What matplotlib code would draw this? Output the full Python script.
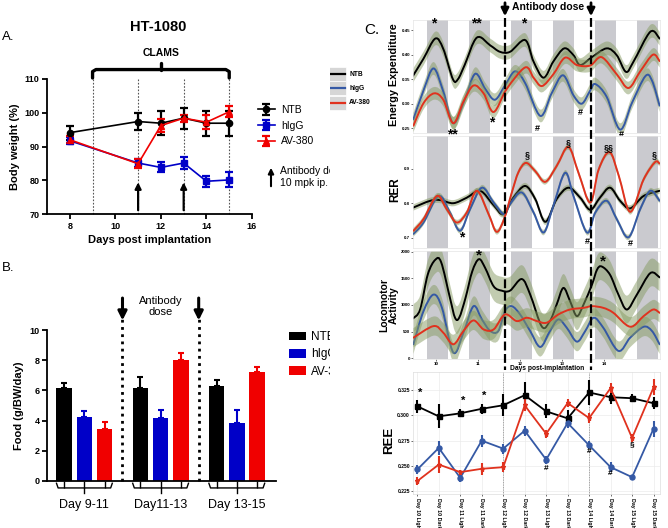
import numpy as np
import matplotlib
matplotlib.use('Agg')
import matplotlib.pyplot as plt
import matplotlib.transforms as mtransforms
from matplotlib.path import Path
from matplotlib.patches import PathPatch, Rectangle
from matplotlib.lines import Line2D

plt.rcParams['font.family'] = ['Liberation Sans', 'DejaVu Sans']

W, H = 668, 528

# ---------------- Panel A: body weight ----------------
days_a = [8, 11, 12, 13, 14, 15]
ntb_bw = [94.1, 97.4, 96.9, 98.4, 96.9, 96.9]
ntb_bw_err = [2.1, 2.4, 3.6, 3.1, 3.7, 3.7]
higg_bw = [91.7, 85.1, 83.8, 85.1, 79.7, 80.1]
higg_bw_err = [1.0, 1.3, 1.5, 1.7, 1.7, 2.2]
av_bw = [92.0, 84.9, 96.2, 98.4, 97.2, 100.3]
av_bw_err = [1.0, 1.3, 2.0, 1.0, 2.0, 1.7]
clams_days = [9, 11, 13, 15]
dose_days = [11, 13]

# ---------------- Panel B: food intake ----------------
periods = ['Day 9-11', 'Day11-13', 'Day 13-15']
ntb_food = [6.13, 6.19, 6.28]
ntb_food_err = [0.37, 0.70, 0.40]
higg_food = [4.25, 4.18, 3.85]
higg_food_err = [0.40, 0.50, 0.84]
av_food = [3.47, 8.00, 7.23]
av_food_err = [0.45, 0.50, 0.34]

# ---------------- Panel C: CLAMS traces ----------------
dark_days = [10, 11, 12, 13, 14, 15]

ee_ntb_t = [9.45, 9.70, 9.98, 10.17, 10.40, 10.52, 10.68, 10.97, 11.29, 11.52, 11.76, 12.12, 12.32,
            12.56, 12.79, 13.05, 13.27, 13.43, 13.71, 14.06, 14.30, 14.52, 14.70, 15.10, 15.32]
ee_ntb = [0.357, 0.392, 0.433, 0.412, 0.350, 0.350, 0.379, 0.435, 0.419, 0.406, 0.406, 0.430, 0.386,
          0.353, 0.386, 0.413, 0.399, 0.379, 0.395, 0.413, 0.399, 0.365, 0.386, 0.447, 0.433]
ee_higg_t = [9.46, 9.70, 9.94, 10.17, 10.41, 10.68, 10.93, 11.17, 11.40, 11.64, 11.88, 12.12, 12.48,
             12.75, 13.02, 13.27, 13.47, 13.67, 13.79, 14.06, 14.38, 14.66, 14.98, 15.14, 15.32]
ee_higg = [0.268, 0.327, 0.372, 0.325, 0.260, 0.308, 0.361, 0.330, 0.308, 0.337, 0.366, 0.342, 0.275,
           0.321, 0.358, 0.317, 0.300, 0.327, 0.340, 0.314, 0.247, 0.301, 0.356, 0.347, 0.296]
ee_av_t = [9.46, 9.70, 9.95, 10.17, 10.41, 10.65, 10.89, 11.13, 11.37, 11.68, 12.12, 12.32, 12.52,
           12.79, 13.07, 13.35, 13.67, 13.94, 14.30, 14.58, 14.86, 15.16, 15.32]
ee_av = [0.255, 0.301, 0.321, 0.308, 0.260, 0.304, 0.337, 0.321, 0.283, 0.330, 0.374, 0.353, 0.336,
         0.360, 0.394, 0.379, 0.378, 0.395, 0.360, 0.332, 0.366, 0.400, 0.387]

rer_ntb_t = [9.45, 9.86, 10.10, 10.41, 10.73, 11.05, 11.37, 11.60, 11.84, 12.12, 12.36, 12.60, 12.87,
             13.15, 13.43, 13.67, 13.90, 14.14, 14.38, 14.62, 14.94, 15.32]
rer_ntb = [0.787, 0.807, 0.809, 0.800, 0.816, 0.836, 0.794, 0.768, 0.816, 0.850, 0.812, 0.746, 0.812,
           0.845, 0.816, 0.781, 0.816, 0.845, 0.807, 0.785, 0.821, 0.836]
rer_higg_t = [9.46, 9.70, 10.06, 10.33, 10.57, 10.81, 11.09, 11.37, 11.62, 11.76, 12.04, 12.32, 12.56,
              12.79, 13.07, 13.27, 13.59, 13.79, 14.06, 14.30, 14.58, 14.86, 15.10, 15.32]
rer_higg = [0.711, 0.744, 0.821, 0.773, 0.720, 0.783, 0.845, 0.802, 0.768, 0.797, 0.831, 0.773, 0.715,
            0.792, 0.888, 0.821, 0.715, 0.773, 0.807, 0.754, 0.701, 0.783, 0.836, 0.807]
rer_av_t = [9.46, 9.70, 10.02, 10.25, 10.49, 10.73, 10.97, 11.25, 11.44, 11.62, 11.80, 11.96, 12.14,
            12.36, 12.60, 12.87, 13.15, 13.39, 13.67, 13.87, 14.13, 14.35, 14.62, 14.94, 15.21, 15.32]
rer_av = [0.720, 0.754, 0.821, 0.783, 0.744, 0.773, 0.836, 0.768, 0.717, 0.755, 0.830, 0.890, 0.917,
          0.893, 0.862, 0.908, 0.963, 0.888, 0.802, 0.898, 0.948, 0.879, 0.775, 0.869, 0.919, 0.915]

loco_ntb_t = [9.45, 9.62, 9.80, 9.98, 10.12, 10.33, 10.45, 10.55, 10.70, 10.86, 11.02, 11.17, 11.37,
              11.56, 11.76, 12.04, 12.24, 12.52, 12.71, 12.87, 13.03, 13.19, 13.35, 13.51, 13.71,
              13.83, 13.94, 14.14, 14.34, 14.54, 14.78, 15.10, 15.32]
loco_ntb = [745, 913, 1565, 1845, 1800, 1130, 760, 760, 1130, 1627, 1857, 1689, 1348,
            1267, 1267, 1484, 1193, 590, 696, 1006, 1317, 1068, 789, 1006, 1379,
            1658, 1720, 1565, 1193, 913, 1193, 1596, 1516]
loco_higg_t = [9.46, 9.70, 9.94, 10.14, 10.41, 10.65, 10.89, 11.09, 11.29, 11.48, 11.64, 11.80, 12.00,
               12.24, 12.48, 12.71, 12.91, 13.11, 13.35, 13.55, 13.75, 13.98, 14.34, 14.62, 14.94,
               15.14, 15.32]
loco_higg = [261, 882, 1193, 944, 106, 478, 975, 727, 509, 509, 882, 975, 820,
             509, 211, 509, 727, 571, 311, 509, 758, 571, 137, 385, 590,
             509, 261]
loco_av_t = [9.46, 9.94, 10.17, 10.41, 10.65, 10.89, 11.13, 11.37, 11.64, 11.92, 12.16, 12.40, 12.63,
             12.91, 13.19, 13.51, 13.71, 13.98, 14.22, 14.62, 14.94, 15.17, 15.32]
loco_av = [385, 602, 478, 261, 509, 708, 540, 540, 820, 696, 758, 696, 665,
           820, 913, 944, 975, 944, 851, 590, 789, 913, 851]

ee_ci = [0.014, 0.013, 0.013]
rer_ci = [0.009, 0.008, 0.008]
loco_ci = [260, 180, 180]

ree_labels = ['Day 10 Light', 'Day 10 Dark', 'Day 11 Light', 'Day 11 Dark', 'Day 12 Light',
              'Day 12 Dark', 'Day 13 Light', 'Day 13 Dark', 'Day 14 Light', 'Day 14 Dark',
              'Day 15 Light', 'Day 15 Dark']
ree_ntb = [0.309, 0.299, 0.302, 0.3065, 0.310, 0.320, 0.304, 0.297, 0.3227, 0.318, 0.317, 0.312]
ree_ntb_err = [0.0065, 0.012, 0.004, 0.005, 0.011, 0.013, 0.007, 0.008, 0.0125, 0.007, 0.004, 0.006]
ree_higg = [0.2463, 0.2677, 0.238, 0.2749, 0.267, 0.2848, 0.2561, 0.2924, 0.2703, 0.2486, 0.2387, 0.2868]
ree_higg_err = [0.004, 0.007, 0.004, 0.006, 0.005, 0.005, 0.004, 0.005, 0.004, 0.005, 0.002, 0.008]
ree_av = [0.2348, 0.2512, 0.2437, 0.247, 0.2486, 0.3099, 0.2818, 0.3122, 0.2973, 0.327, 0.2776, 0.3277]
ree_av_err = [0.004, 0.008, 0.002, 0.006, 0.005, 0.006, 0.004, 0.004, 0.005, 0.005, 0.004, 0.008]

groups = ['NTB', 'hIgG', 'AV-380']
colors_ab = ['black', '#0000C8', '#F00000']
colors_c = ['black', '#3559A5', '#E0321E']
RIBBON = '#869B62'
BAND = '#CACACF'


def fx(px):
    return px / W


def fy(py):
    return 1 - py / H


def box(x0, y0, x1, y1):
    return [fx(x0), fy(y1), (x1 - x0) / W, (y1 - y0) / H]


def bezier(t, v):
    # smooth path through the read points (Catmull-Rom as cubic Bezier)
    p = np.column_stack([t, v]).astype(float)
    e = np.vstack([p[0], p, p[-1]])
    verts, codes = [p[0]], [Path.MOVETO]
    for i in range(len(p) - 1):
        a, b, c, d = e[i], e[i + 1], e[i + 2], e[i + 3]
        verts += [b + (c - a) / 6, c - (d - b) / 6, c]
        codes += [Path.CURVE4] * 3
    return np.array(verts), codes


def smooth_series(ax, t, v, ci, color, z):
    t = np.asarray(t, float)
    v = np.asarray(v, float)
    up, codes = bezier(t, v + ci)
    lo, _ = bezier(t, v - ci)
    verts = np.vstack([up, lo[::-1], up[:1]])
    cds = codes + [Path.LINETO] + [Path.CURVE4] * (len(lo) - 1) + [Path.CLOSEPOLY]
    ax.add_patch(PathPatch(Path(verts, cds), facecolor=RIBBON, edgecolor='none',
                           alpha=0.5, zorder=z))
    mid, codes = bezier(t, v)
    ax.add_patch(PathPatch(Path(mid, codes), fill=False, edgecolor=color, lw=1.4,
                           zorder=z + 0.5, capstyle='round'))


fig = plt.figure(figsize=(W / 100, H / 100), dpi=100)

# ================= Panel A =================
axA = fig.add_axes(box(47, 79, 252, 214), zorder=0)
markers_a = ['o', 's', '^']
for vals, errs, col, mk, lab in zip([ntb_bw, higg_bw, av_bw], [ntb_bw_err, higg_bw_err, av_bw_err],
                                    colors_ab, markers_a, groups):
    axA.errorbar(days_a, vals, yerr=errs, color=col, marker=mk, ms=4.5, lw=1.2,
                 elinewidth=1.6, capsize=3, capthick=1.6, label=lab, zorder=3)
axA.vlines(clams_days, 70, 110, colors='#555555', linestyles=(0, (1.5, 1.5)), lw=0.8,
           zorder=1, clip_on=False)
for d in dose_days:
    axA.annotate('', xy=(d, 80.2), xytext=(d, 70.3),
                 arrowprops=dict(arrowstyle='-|>', color='black', lw=1.6, mutation_scale=9))
# CLAMS brace
bk = dict(color='black', lw=2.4, clip_on=False, solid_capstyle='round', solid_joinstyle='round')
axA.plot([9, 9, 9.15, 14.85, 15, 15], [110.3, 112.2, 112.8, 112.8, 112.2, 110.3], **bk)
axA.plot([12, 12], [112.8, 114.6], **bk)
axA.text(12, 117.7, 'CLAMS', ha='center', va='center', fontsize=7.5, fontweight='bold')
axA.set_xlim(7, 16)
axA.set_ylim(70, 110)
axA.set_xticks([8, 10, 12, 14, 16])
axA.set_yticks([70, 80, 90, 100, 110])
axA.set_xlabel('Days post implantation', fontsize=8, fontweight='bold', labelpad=3)
axA.set_ylabel('Body weight (%)', fontsize=8, fontweight='bold', labelpad=3)
axA.spines[['top', 'right']].set_visible(False)
axA.spines[['left', 'bottom']].set_linewidth(1.3)
axA.tick_params(width=1.3, length=3.5, labelsize=6.5, pad=2)
for lb in axA.get_xticklabels() + axA.get_yticklabels():
    lb.set_fontweight('bold')
axA.legend(loc='upper left', bbox_to_anchor=(fx(258), fy(105)), bbox_transform=fig.transFigure,
           frameon=False, fontsize=7.5, handlelength=1.6, labelspacing=0.55, handletextpad=0.6,
           borderpad=0, borderaxespad=0)
axA.annotate('', xy=(fx(271), fy(165)), xytext=(fx(271), fy(189)), xycoords='figure fraction',
             arrowprops=dict(arrowstyle='-|>', color='black', lw=1.5, mutation_scale=8))
axA.text(fx(280), fy(177), 'Antibody dose\n10 mpk ip.', transform=fig.transFigure,
         fontsize=7.5, ha='left', va='center', linespacing=1.15)

fig.text(fx(158), fy(27), 'HT-1080', ha='center', va='center', fontsize=10.5, fontweight='bold')
fig.text(fx(2), fy(37), 'A.', ha='left', va='center', fontsize=9.5)
fig.text(fx(2), fy(268), 'B.', ha='left', va='center', fontsize=9.5)

# ================= Panel B =================
axB = fig.add_axes(box(47, 330, 276, 481), zorder=0)
gstep = 3.77
gx = np.arange(len(periods)) * gstep
for j, (vals, errs, col, lab) in enumerate(zip([ntb_food, higg_food, av_food],
                                               [ntb_food_err, higg_food_err, av_food_err],
                                               colors_ab, groups)):
    xs = gx + (j - 1)
    axB.bar(xs, vals, width=0.77, color=col, label=lab, zorder=2)
    axB.errorbar(xs, vals, yerr=[np.zeros(len(vals)), errs], fmt='none', ecolor=col,
                 elinewidth=1.5, capsize=2.5, capthick=1.5, zorder=2)
axB.set_xlim(-1.85, 9.48)
axB.set_ylim(0, 10)
axB.set_yticks([0, 2, 4, 6, 8, 10])
axB.set_xticks(np.concatenate([gx - 1, gx, gx + 1]))
axB.set_xticklabels([])
axB.set_ylabel('Food (g/BW/day)', fontsize=8, fontweight='bold', labelpad=4)
axB.spines[['top', 'right']].set_visible(False)
axB.spines[['left', 'bottom']].set_linewidth(1.3)
axB.tick_params(axis='y', width=1.3, length=3.5, labelsize=6.5, pad=2)
axB.tick_params(axis='x', width=1.0, length=5.3, pad=2)
for lb in axB.get_yticklabels():
    lb.set_fontweight('bold')
trB = mtransforms.blended_transform_factory(axB.transData, axB.transAxes)
for g, lab in zip(gx, periods):
    axB.plot([g - 1.38, g - 1.3, g + 1.3, g + 1.38], [-0.015, -0.046, -0.046, -0.015],
             transform=trB, color='black', lw=1.0, clip_on=False)
    axB.plot([g, g], [-0.046, -0.078], transform=trB, color='black', lw=1.0, clip_on=False)
    axB.text(g, -0.16, lab, transform=trB, ha='center', va='center', fontsize=9)
sep = [(gx[0] + 1 + gx[1] - 1) / 2, (gx[1] + 1 + gx[2] - 1) / 2]
for s in sep:
    axB.plot([s, s], [0, 10.8], color='black', lw=2.0, linestyle=(0, (1, 1.6)), clip_on=False)
    axB.annotate('', xy=(s, 10.45), xytext=(s, 12.3),
                 arrowprops=dict(arrowstyle='-|>', color='black', lw=2.2, mutation_scale=13),
                 annotation_clip=False)
axB.text(gx[1], 11.55, 'Antibody\ndose', ha='center', va='center', fontsize=8, linespacing=1.15)
axB.legend(loc='upper left', bbox_to_anchor=(fx(289), fy(331)), bbox_transform=fig.transFigure,
           frameon=False, fontsize=8.5, handlelength=1.4, handleheight=0.75, labelspacing=0.45,
           handletextpad=0.5, borderpad=0, borderaxespad=0)

# ================= Panel C background (covers A/B overflow) =================
bg = fig.add_axes([fx(330), 0, 1 - fx(330), 1], zorder=1)
bg.set_axis_off()
bg.add_patch(Rectangle((0, 0), 1, 1, transform=bg.transAxes, facecolor='white',
                       edgecolor='none', zorder=0))
bg.text(fx(372), fy(30), 'C.', transform=fig.transFigure, fontsize=11, ha='center', va='center')
key_y = [74, 88, 103]
for ky, col, lab in zip(key_y, colors_c, groups):
    bg.add_patch(Rectangle((fx(329), fy(ky + 7)), 17 / W, 14 / H, transform=fig.transFigure,
                           facecolor='#D6D6D6', edgecolor='white', lw=0.5))
    bg.add_line(Line2D([fx(330), fx(345)], [fy(ky), fy(ky)], transform=fig.transFigure,
                       color=col, lw=1.6))
    bg.text(fx(349), fy(ky), lab, transform=fig.transFigure, fontsize=4.8, ha='left',
            va='center', fontweight='bold')
bg.text(fx(394), fy(75), 'Energy Expenditure', transform=fig.transFigure, rotation=90,
        ha='center', va='center', fontsize=7.8, fontweight='bold')
bg.text(fx(395), fy(190), 'RER', transform=fig.transFigure, rotation=90,
        ha='center', va='center', fontsize=8.5, fontweight='bold')
bg.text(fx(389), fy(305), 'Locomotor\nActivity', transform=fig.transFigure, rotation=90,
        ha='center', va='center', fontsize=7.5, fontweight='bold', linespacing=1.0)
bg.text(fx(389), fy(440), 'REE', transform=fig.transFigure, rotation=90,
        ha='center', va='center', fontsize=9.5, fontweight='bold')
bg.text(fx(547), fy(369), 'Days post-implantation', transform=fig.transFigure,
        ha='center', va='center', fontsize=4.8, fontweight='bold')
bg.text(fx(548), fy(7), 'Antibody dose', transform=fig.transFigure,
        ha='center', va='center', fontsize=7.5, fontweight='bold')
for X in [505, 591]:
    bg.annotate('', xy=(fx(X), fy(19)), xytext=(fx(X), fy(0)), xycoords='figure fraction',
                arrowprops=dict(arrowstyle='-|>', color='black', lw=2.0, mutation_scale=11))

# ================= Panel C traces =================
axEE = fig.add_axes(box(413, 20, 660, 133), zorder=2)
axRER = fig.add_axes(box(413, 136, 660, 248), zorder=2)
axLO = fig.add_axes(box(413, 251, 660, 359), zorder=2)

traces = [
    (axEE, [(ee_ntb_t, ee_ntb), (ee_higg_t, ee_higg), (ee_av_t, ee_av)], ee_ci,
     (0.24, 0.471), [0.25, 0.30, 0.35, 0.40, 0.45], '{:.2f}'),
    (axRER, [(rer_ntb_t, rer_ntb), (rer_higg_t, rer_higg), (rer_av_t, rer_av)], rer_ci,
     (0.67, 0.995), [0.7, 0.8, 0.9], '{:.1f}'),
    (axLO, [(loco_ntb_t, loco_ntb), (loco_higg_t, loco_higg), (loco_av_t, loco_av)], loco_ci,
     (-15, 2010), [0, 500, 1000, 1500, 2000], '{:.0f}'),
]
for ax, series, cis, ylim, yt, fmt in traces:
    ax.set_facecolor('white')
    for d in dark_days:
        ax.axvspan(d - 0.22, d + 0.28, color=BAND, lw=0, zorder=1)
    for k, ((t, v), ci, col) in enumerate(zip(series, cis, colors_c)):
        smooth_series(ax, t, v, ci, col, z=2 + k)
    ax.set_xlim(9.45, 15.33)
    ax.set_ylim(*ylim)
    ax.set_yticks(yt)
    ax.set_yticklabels([fmt.format(y) for y in yt])
    ax.tick_params(labelsize=3.2, length=1.2, width=0.4, pad=0.8)
    for sp in ax.spines.values():
        sp.set_color('#E4E4E4')
        sp.set_linewidth(0.5)
    for lb in ax.get_yticklabels():
        lb.set_fontweight('bold')
axEE.set_xticks([])
axRER.set_xticks([])
axLO.set_xticks([10, 11, 12, 13, 14])
axLO.set_xticklabels(['10', '11', '12', '13', '14'])
for lb in axLO.get_xticklabels():
    lb.set_fontweight('bold')

sig_kw = dict(ha='center', va='center', fontweight='bold', clip_on=False, zorder=10)
for x, y, s in [(9.95, 0.463, '*'), (10.97, 0.463, '**'), (12.08, 0.463, '*')]:
    axEE.text(x, y, s, fontsize=10, **sig_kw)
for x, y, s in [(10.38, 0.238, '**'), (11.32, 0.261, '*')]:
    axEE.text(x, y, s, fontsize=10, **sig_kw)
for x, y, s in [(12.41, 0.249, '#'), (13.43, 0.282, '#'), (14.40, 0.236, '#')]:
    axEE.text(x, y, s, fontsize=6.5, **sig_kw)
axRER.text(10.6, 0.700, '*', fontsize=10, **sig_kw)
for x, y, s in [(12.17, 0.941, '§'), (13.15, 0.975, '§'), (14.10, 0.961, '§§'), (15.19, 0.941, '§'),
                (13.60, 0.688, '#'), (14.62, 0.683, '#')]:
    axRER.text(x, y, s, fontsize=6.5, **sig_kw)
for x, y in [(11.03, 1930), (13.98, 1810)]:
    axLO.text(x, y, '*', fontsize=11, **sig_kw)

# ================= Panel C: REE =================
axREE = fig.add_axes(box(413, 372, 660, 494), zorder=2)
pos = np.arange(1, len(ree_labels) + 1)
for vals, errs, col, mk in zip([ree_ntb, ree_higg, ree_av], [ree_ntb_err, ree_higg_err, ree_av_err],
                               colors_c, ['s', 'o', '*']):
    axREE.errorbar(pos, vals, yerr=errs, color=col, marker=mk, ms=3.6, lw=1.3, elinewidth=1.5,
                   capsize=0, zorder=3)
axREE.axvline(5, color='#888888', lw=0.6, linestyle=(0, (1, 1)), zorder=1)
axREE.axvline(9, color='#888888', lw=0.6, linestyle=(0, (1, 1)), zorder=1)
axREE.set_xlim(0.8, 12.3)
axREE.set_ylim(0.222, 0.343)
axREE.set_xticks(pos)
axREE.set_xticklabels(ree_labels, rotation=270, fontsize=3.8, fontweight='bold')
axREE.set_yticks([0.225, 0.250, 0.275, 0.300, 0.325])
axREE.set_yticklabels(['0.225', '0.250', '0.275', '0.300', '0.325'])
axREE.tick_params(axis='y', labelsize=3.6, length=1.2, width=0.4, pad=1)
axREE.tick_params(axis='x', length=1.2, width=0.4, pad=1.5)
for lb in axREE.get_yticklabels():
    lb.set_fontweight('bold')
axREE.grid(True, color='#EBEBEB', lw=0.5)
axREE.set_axisbelow(True)
for sp in axREE.spines.values():
    sp.set_color('#DDDDDD')
    sp.set_linewidth(0.5)
for x, y in [(1.15, 0.3225), (3.15, 0.3145), (4.1, 0.3195)]:
    axREE.text(x, y, '*', fontsize=8, **sig_kw)
for x, y, s in [(7, 0.2475, '#'), (9, 0.2645, '#'), (10, 0.2425, '#'), (11, 0.2705, '§')]:
    axREE.text(x, y, s, fontsize=6, **sig_kw)

# thick dashed dosing lines across panel C
for X in [505, 591]:
    fig.add_artist(Line2D([fx(X), fx(X)], [fy(18), fy(370)], transform=fig.transFigure,
                          color='black', lw=1.6, dashes=(4, 1.6), zorder=10))

fig.savefig('out.png', dpi=100)
